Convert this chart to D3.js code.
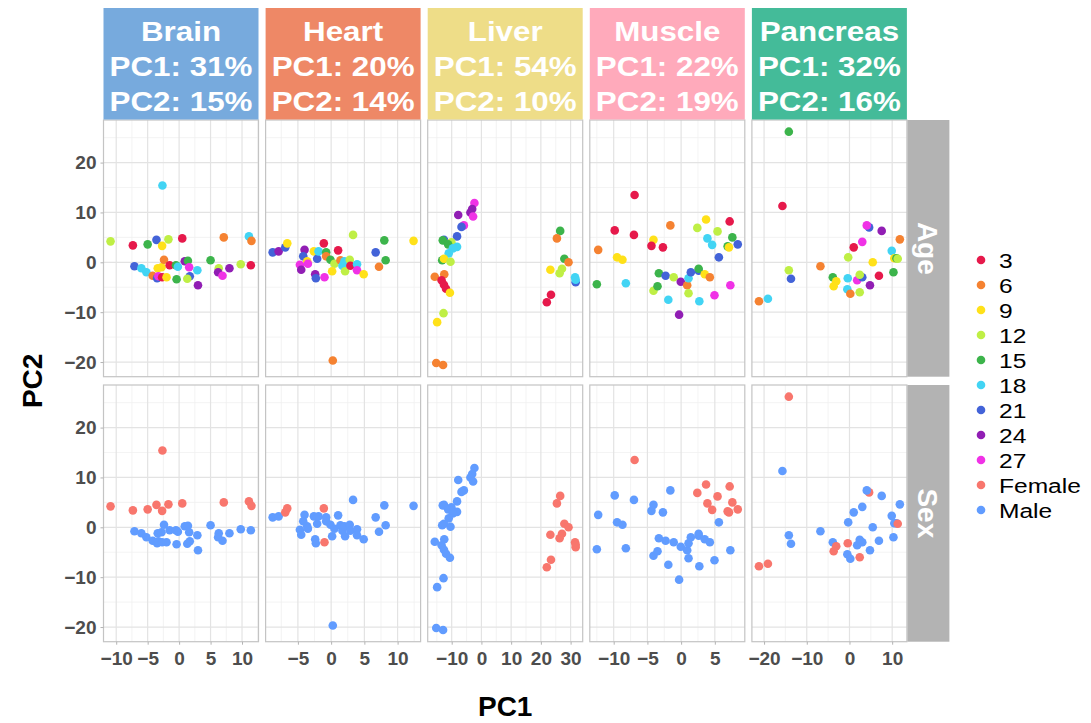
<!DOCTYPE html>
<html>
<head>
<meta charset="utf-8">
<script src="https://cdn.jsdelivr.net/npm/d3@7"></script>
<style>
  body { margin: 0; background: #fff; }
  svg { display: block; font-family: "Liberation Sans", Arial, sans-serif; }
</style>
</head>
<body>
<svg id="chart" width="1091" height="723"></svg>
<script>
// facet columns and their explained variance
const tissues = ["Brain", "Heart", "Liver", "Muscle", "Pancreas"];
const pc1Pct = [31, 20, 54, 22, 32];
const pc2Pct = [15, 14, 10, 19, 16];
const rowVars = ["Age", "Sex"];

const ageLevels = [3, 6, 9, 12, 15, 18, 21, 24, 27];
const sexLevels = ["Female", "Male"];

// samples: [PC1, PC2, age, sex]
const brain = [
  [-10.9, 4.2, 12, "F"], [-7.35, 3.4, 3, "F"], [-5.0, 3.6, 15, "F"], [-3.6, 4.5, 21, "F"],
  [-2.7, 3.3, 9, "F"], [-1.7, 4.6, 12, "F"], [-2.65, 15.4, 18, "F"], [0.5, 4.8, 3, "F"],
  [7.1, 5.0, 6, "F"], [11.1, 5.2, 18, "F"], [11.5, 4.3, 6, "F"],
  [-7.1, -0.8, 21, "M"], [-6.0, -1.2, 18, "M"], [-5.2, -2.0, 18, "M"], [-4.2, -2.7, 6, "M"],
  [-3.5, -3.2, 21, "M"], [-3.4, -1.2, 9, "M"], [-2.8, -1.0, 9, "M"], [-2.4, 0.5, 6, "M"],
  [-3.3, -2.8, 27, "M"], [-2.7, -3.0, 3, "M"], [-2.0, -3.0, 9, "M"], [-1.5, -0.6, 3, "M"],
  [-0.4, -3.4, 15, "M"], [-0.5, -0.6, 15, "M"], [-0.2, -0.9, 18, "M"], [0.9, 0.2, 24, "M"],
  [1.4, 0.3, 15, "M"], [1.7, -2.8, 21, "M"], [1.3, -3.3, 12, "M"], [1.6, -1.0, 27, "M"],
  [2.9, -1.6, 18, "M"], [3.0, -4.6, 24, "M"], [5.0, 0.4, 15, "M"], [6.3, -1.2, 12, "M"],
  [6.2, -2.0, 24, "M"], [6.9, -2.7, 27, "M"], [8.0, -1.2, 24, "M"], [9.8, -0.4, 12, "M"],
  [11.4, -0.6, 3, "M"]
];
const heart = [
  [-8.8, 2.0, 21, "M"], [-7.9, 2.2, 24, "M"], [-6.9, 3.0, 21, "F"], [-6.6, 3.8, 9, "F"],
  [-4.0, 2.5, 24, "M"], [-4.2, 1.2, 21, "M"], [-3.6, 0.2, 9, "M"], [-4.7, -0.5, 27, "M"],
  [-4.5, -1.5, 24, "M"], [-3.5, -0.3, 27, "M"], [-2.6, 2.2, 9, "M"], [-2.1, 0.7, 21, "M"],
  [-1.9, 2.2, 18, "M"], [-1.1, 3.8, 3, "F"], [-0.75, 2.0, 15, "M"], [-0.75, 1.2, 6, "M"],
  [-0.1, 0.5, 15, "M"], [0.5, -0.3, 12, "M"], [-2.4, -2.4, 24, "M"], [-2.3, -3.2, 21, "M"],
  [-1.0, -3.0, 27, "F"], [0.15, -1.8, 9, "M"], [1.05, 2.4, 3, "M"], [1.4, 0.4, 6, "M"],
  [1.7, -0.7, 18, "M"], [2.0, 0.2, 18, "M"], [2.1, -1.8, 12, "M"], [2.8, 0.5, 12, "M"],
  [2.9, -0.7, 3, "M"], [3.9, -0.4, 18, "M"], [3.9, -1.6, 27, "M"], [4.9, -2.4, 9, "M"],
  [3.3, 5.5, 12, "M"], [6.7, 2.0, 21, "M"], [7.2, -0.9, 6, "M"], [8.0, 4.4, 15, "M"],
  [8.2, 0.4, 15, "M"], [12.4, 4.3, 9, "M"], [0.25, -19.7, 6, "M"]
];
const liver = [
  [-2.35, 11.9, 27, "M"], [-3.1, 10.7, 24, "M"], [-3.7, 10.0, 24, "M"], [-2.8, 9.2, 27, "M"],
  [-7.8, 9.5, 24, "M"], [-5.9, 7.4, 27, "M"], [-6.7, 7.1, 21, "M"], [-8.2, 5.2, 21, "M"],
  [-12.6, 4.5, 21, "M"], [-13.0, 4.4, 15, "M"], [-10.1, 4.0, 12, "M"], [-11.2, 3.6, 15, "M"],
  [-8.2, 3.1, 18, "M"], [-9.6, 2.8, 18, "M"], [-11.0, 1.8, 18, "M"], [-13.2, 0.4, 15, "M"],
  [-12.6, 0.7, 9, "M"], [-10.4, 0.1, 12, "M"], [-15.7, -2.9, 6, "M"], [-12.5, -2.4, 6, "M"],
  [-13.4, -3.6, 3, "M"], [-12.6, -4.5, 3, "M"], [-11.9, -5.3, 3, "M"], [-10.6, -6.1, 9, "M"],
  [-12.75, -10.2, 12, "M"], [-14.9, -12.0, 9, "M"], [-15.2, -20.2, 6, "M"], [-12.9, -20.6, 6, "M"],
  [26.5, 6.3, 15, "F"], [25.4, 4.8, 6, "F"], [27.9, 0.7, 15, "F"], [29.3, 0.0, 6, "F"],
  [23.2, -1.5, 9, "F"], [27.1, -1.3, 12, "F"], [26.3, -2.2, 12, "F"], [31.5, -3.0, 18, "F"],
  [31.7, -4.0, 21, "F"], [31.7, -3.5, 18, "F"], [23.4, -6.5, 3, "F"], [22.0, -8.0, 3, "F"]
];
const muscle = [
  [-6.9, 13.5, 3, "F"], [-9.85, 6.4, 3, "M"], [-7.0, 5.5, 3, "M"], [-1.6, 7.4, 6, "M"],
  [-12.3, 2.5, 6, "M"], [-9.5, 1.0, 9, "M"], [-8.7, 0.5, 9, "M"], [-4.1, 4.5, 9, "M"],
  [-4.4, 3.3, 3, "M"], [-2.7, 3.0, 3, "M"], [-12.5, -4.4, 15, "M"], [-8.2, -4.2, 18, "M"],
  [-3.3, -2.2, 15, "M"], [-2.3, -2.7, 21, "M"], [-1.1, -3.0, 12, "M"], [-4.1, -5.7, 12, "M"],
  [-3.5, -4.8, 15, "M"], [-1.9, -7.5, 18, "M"], [-0.05, -3.9, 24, "M"], [-0.3, -10.5, 24, "M"],
  [0.9, -4.6, 6, "M"], [1.1, -3.2, 18, "M"], [1.1, -6.2, 12, "M"], [1.44, -2.0, 21, "M"],
  [2.6, -1.7, 21, "M"], [2.6, -1.3, 15, "M"], [2.7, -7.8, 18, "M"], [3.5, -2.4, 9, "M"],
  [4.26, -3.0, 6, "M"], [4.95, -6.6, 27, "M"], [7.3, -4.6, 27, "M"], [2.4, 6.9, 12, "F"],
  [3.7, 8.6, 9, "F"], [5.4, 6.2, 12, "F"], [3.9, 4.8, 18, "F"], [4.6, 3.5, 18, "F"],
  [7.2, 8.2, 3, "F"], [7.6, 5.0, 15, "F"], [6.9, 3.2, 15, "F"], [7.1, 3.0, 9, "F"],
  [8.4, 3.6, 21, "F"], [5.6, 1.0, 21, "M"]
];
const pancreas = [
  [-14.2, 26.2, 15, "F"], [-15.7, 11.3, 3, "M"], [-14.2, -1.6, 12, "M"], [-13.7, -3.3, 21, "M"],
  [-21.2, -7.8, 6, "F"], [-19.1, -7.3, 18, "F"], [-6.8, -0.8, 6, "M"], [-3.9, -3.0, 15, "M"],
  [-3.1, -3.8, 9, "F"], [-3.7, -4.8, 9, "F"], [-0.4, -3.2, 18, "F"], [-0.5, -5.4, 18, "M"],
  [0.2, -6.3, 6, "M"], [-0.3, 1.0, 12, "M"], [1.0, 3.0, 3, "M"], [3.0, 4.1, 27, "M"],
  [4.6, 7.0, 21, "F"], [4.05, 7.4, 27, "M"], [7.55, 6.3, 24, "M"], [1.8, -3.6, 27, "M"],
  [3.0, -3.0, 21, "M"], [2.4, -2.5, 12, "M"], [2.4, -6.0, 12, "F"], [4.8, -4.6, 24, "M"],
  [5.45, 0.0, 9, "M"], [6.9, -2.7, 3, "M"], [10.3, -2.0, 15, "M"], [9.9, 2.3, 18, "M"],
  [10.5, 0.8, 9, "M"], [11.0, 0.8, 15, "M"], [11.3, 0.7, 12, "F"], [11.8, 4.6, 6, "M"]
];
const samples = [brain, heart, liver, muscle, pancreas];

const stripColors = ["#77AADD", "#EE8866", "#EEDD88", "#FFAABB", "#44BB99"];
const ageColors = ["#e6194b", "#f58231", "#ffe119", "#bfef45", "#3cb44b", "#42d4f4", "#4363d8", "#911eb4", "#f032e6"];
const sexColors = ["#F8766D", "#619CFF"];

// layout
const panelW = 155, panelH = 256.7, colStep = 162.1;
const left = 103.5, rowTop = [120, 385];
const stripTop = 8;

const svg = d3.select("#chart");

const ageColor = d3.scaleOrdinal().domain(ageLevels).range(ageColors);
const sexColor = d3.scaleOrdinal().domain(["F", "M"]).range(sexColors);

// ggplot-like 5% expansion
function expand(ext) {
  const pad = (ext[1] - ext[0]) * 0.05;
  return [ext[0] - pad, ext[1] + pad];
}
function minorBreaks(major, dom) {
  const step = major[1] - major[0];
  const out = [];
  for (let v = major[0] - step / 2; v <= dom[1]; v += step) {
    if (v >= dom[0]) out.push(v);
  }
  return out;
}

const allY = samples.flat().map(d => d[1]);
const yDomain = expand(d3.extent(allY));

rowTop.forEach((top, r) => {
  const y = d3.scaleLinear().domain(yDomain).range([top + panelH, top]);
  const yTicks = y.ticks(5);
  const yMinor = minorBreaks(yTicks, yDomain);

  tissues.forEach((t, c) => {
    const x0 = left + c * colStep;
    const x = d3.scaleLinear().domain(expand(d3.extent(samples[c], d => d[0]))).range([x0, x0 + panelW]);
    const xTicks = x.ticks(5);
    const xMinor = minorBreaks(xTicks, x.domain());
    const g = svg.append("g");

    g.append("rect").attr("x", x0).attr("y", top).attr("width", panelW).attr("height", panelH).attr("fill", "#fff");
    // grid
    g.selectAll(".ymin").data(yMinor).enter().append("line")
      .attr("x1", x0).attr("x2", x0 + panelW).attr("y1", d => y(d)).attr("y2", d => y(d))
      .attr("stroke", "#f0f0f0").attr("stroke-width", 0.8);
    g.selectAll(".xmin").data(xMinor).enter().append("line")
      .attr("y1", top).attr("y2", top + panelH).attr("x1", d => x(d)).attr("x2", d => x(d))
      .attr("stroke", "#f0f0f0").attr("stroke-width", 0.8);
    g.selectAll(".ymaj").data(yTicks).enter().append("line")
      .attr("x1", x0).attr("x2", x0 + panelW).attr("y1", d => y(d)).attr("y2", d => y(d))
      .attr("stroke", "#e3e3e3").attr("stroke-width", 1.2);
    g.selectAll(".xmaj").data(xTicks).enter().append("line")
      .attr("y1", top).attr("y2", top + panelH).attr("x1", d => x(d)).attr("x2", d => x(d))
      .attr("stroke", "#e3e3e3").attr("stroke-width", 1.2);

    // points
    g.selectAll("circle").data(samples[c]).enter().append("circle")
      .attr("cx", d => x(d[0])).attr("cy", d => y(d[1])).attr("r", 4.3)
      .attr("fill", d => r === 0 ? ageColor(d[2]) : sexColor(d[3]));

    g.append("rect").attr("x", x0).attr("y", top).attr("width", panelW).attr("height", panelH)
      .attr("fill", "none").attr("stroke", "#c4c4c4").attr("stroke-width", 1.2);

    // x axis under the bottom row
    if (r === 1) {
      const ax = svg.append("g").attr("transform", `translate(0,${top + panelH})`)
        .call(d3.axisBottom(x).tickValues(xTicks).tickSize(3).tickPadding(4));
      ax.select(".domain").remove();
      ax.selectAll(".tick line").attr("stroke", "#b3b3b3");
      ax.selectAll(".tick text").attr("fill", "#4d4d4d").attr("font-size", 19).attr("font-weight", "bold")
        .attr("font-family", "Liberation Sans, Arial, sans-serif").attr("dy", "0.85em");
    }
    // top strip
    if (r === 0) {
      svg.append("rect").attr("x", x0).attr("y", stripTop).attr("width", panelW).attr("height", top - stripTop - 0.5)
        .attr("fill", stripColors[c]);
      const lines = [t, `PC1: ${pc1Pct[c]}%`, `PC2: ${pc2Pct[c]}%`];
      svg.append("g").selectAll("text").data(lines).enter().append("text")
        .attr("transform", (d, i) => `translate(${x0 + panelW / 2},${41 + i * 35}) scale(1.12,1)`)
        .attr("text-anchor", "middle").attr("fill", "#fff").attr("font-weight", "bold")
        .attr("font-size", 28).text(d => d);
    }
  });

  // y axis on the left column
  const ay = svg.append("g").attr("transform", `translate(${left},0)`)
    .call(d3.axisLeft(y).tickValues(yTicks).tickSize(3).tickPadding(4));
  ay.select(".domain").remove();
  ay.selectAll(".tick line").attr("stroke", "#b3b3b3");
  ay.selectAll(".tick text").attr("fill", "#4d4d4d").attr("font-size", 19).attr("font-weight", "bold")
    .attr("font-family", "Liberation Sans, Arial, sans-serif");

  // right strip
  const sx = left + 4 * colStep + panelW;
  svg.append("rect").attr("x", sx + 0.5).attr("y", top).attr("width", 42).attr("height", panelH).attr("fill", "#b3b3b3");
  svg.append("text").attr("transform", `translate(${sx + 21},${top + panelH / 2}) rotate(90)`)
    .attr("text-anchor", "middle").attr("dy", "0.35em").attr("fill", "#fff").attr("font-weight", "bold")
    .attr("font-size", 28).text(rowVars[r]);
});

// axis titles
svg.append("text").attr("x", left + (4 * colStep + panelW) / 2).attr("y", 716)
  .attr("text-anchor", "middle").attr("font-weight", "bold").attr("font-size", 28).text("PC1");
svg.append("text").attr("transform", `translate(42,${(rowTop[0] + rowTop[1] + panelH) / 2}) rotate(-90)`)
  .attr("text-anchor", "middle").attr("font-weight", "bold").attr("font-size", 28).text("PC2");

// legend (ages then sexes)
const legendItems = ageLevels.map((a, i) => ({ label: String(a), color: ageColors[i] }))
  .concat(sexLevels.map((s, i) => ({ label: s, color: sexColors[i] })));
const lg = svg.append("g").attr("transform", "translate(981,260)");
const item = lg.selectAll("g").data(legendItems).enter().append("g")
  .attr("transform", (d, i) => `translate(0,${i * 25})`);
item.append("circle").attr("r", 4.3).attr("fill", d => d.color);
item.append("text").attr("transform", "translate(18,0) scale(1.17,1)").attr("dy", "0.36em")
  .attr("font-size", 21).text(d => d.label);
</script>
</body>
</html>
